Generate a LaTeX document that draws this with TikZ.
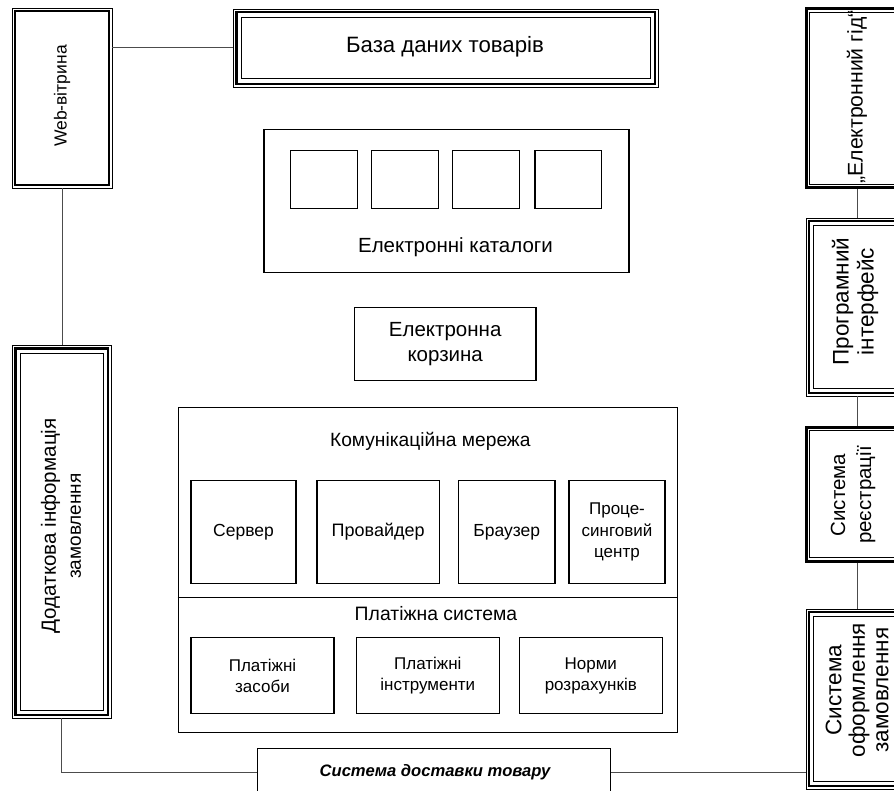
\documentclass[tikz,border=0pt]{standalone}
\usepackage{fontspec}
\setmainfont{Liberation Sans}
\usetikzlibrary{calc}
\begin{document}
\begin{tikzpicture}[x=1pt,y=-1pt,
  box/.style={draw=black, line width=1.4pt, inner sep=0pt},
  frame/.style={draw=black, line width=0.9pt, inner sep=0pt},
  thickframe/.style={draw=black, line width=3pt, inner sep=0pt},
  conn/.style={draw=black!70, line width=1pt},
  txt/.style={align=center, inner sep=0pt},
  thk/.style={line width=2.6pt},
  thn/.style={line width=0.9pt}]
\useasboundingbox (0,0) rectangle (894,791);
\clip (0,0) rectangle (894,791);
\fill[white] (0,0) rectangle (894,791);

% ---- left column
\node[frame, minimum width=100pt, minimum height=180pt] (web) at (62,98) {};
\draw[thk] ($(web.north west)+(3.5,3.5)$) rectangle ($(web.south east)+(-3.5,-3.5)$);
\node[txt, rotate=90, font=\fontsize{17.5}{22}\selectfont] (webt) at (62,96) {Web-вітрина};

\node[frame, minimum width=98.5pt, minimum height=372.5pt] (extra) at (61.75,531.75) {};
\draw[thk] ($(extra.north west)+(3.5,3.5)$) rectangle ($(extra.south east)+(-3.5,-3.5)$);
\draw[thn] ($(extra.north west)+(8,8)$) rectangle ($(extra.south east)+(-8,-8)$);
\node[txt, rotate=90, font=\fontsize{20.6}{25}\selectfont] (extrat) at (61,526) {Додаткова інформація\\\fontsize{19}{25}\selectfont замовлення};

% ---- top
\node[frame, minimum width=424.5pt, minimum height=78pt] (db) at (445.75,48) {};
\draw[thk] ($(db.north west)+(3.5,3.5)$) rectangle ($(db.south east)+(-3.5,-3.5)$);
\draw[thn] ($(db.north west)+(8.5,8.5)$) rectangle ($(db.south east)+(-8.5,-8.5)$);
\node[txt, font=\fontsize{22.2}{26}\selectfont] (dbt) at (445,47) {База даних товарів};

% ---- right column
\node[thickframe, minimum width=102pt, minimum height=179pt] (guide) at (857,98.5) {};
\draw[thn] ($(guide.north west)+(5,5)$) rectangle ($(guide.south east)+(-5,-5)$);
\node[txt, rotate=90, font=\fontsize{21.2}{25}\selectfont] (guidet) at (857,97) {„Електронний гід“};

\node[frame, minimum width=102pt, minimum height=178pt] (prog) at (857,307) {};
\draw[thk] ($(prog.north west)+(3.5,3.5)$) rectangle ($(prog.south east)+(-3.5,-3.5)$);
\draw[thn] ($(prog.north west)+(8,8)$) rectangle ($(prog.south east)+(-8,-8)$);
\node[txt, rotate=90, font=\fontsize{22.5}{25}\selectfont] (progt) at (855,301.5) {Програмний\\інтерфейс};

\node[thickframe, minimum width=102pt, minimum height=134pt] (reg) at (857,494) {};
\draw[thn] ($(reg.north west)+(5,5)$) rectangle ($(reg.south east)+(-5,-5)$);
\node[txt, rotate=90, font=\fontsize{20.5}{26}\selectfont] (regt) at (853,495) {Система\\реєстрації};

\node[frame, minimum width=102pt, minimum height=180pt] (order) at (857,699) {};
\draw[thk] ($(order.north west)+(3.5,3.5)$) rectangle ($(order.south east)+(-3.5,-3.5)$);
\draw[thn] ($(order.north west)+(8,8)$) rectangle ($(order.south east)+(-8,-8)$);
\node[txt, rotate=90, font=\fontsize{22.5}{23.5}\selectfont] (ordert) at (857,690) {Система\\оформлення\\замовлення};

% ---- catalogues
\node[box, minimum width=365pt, minimum height=143.5pt] (cat) at (446.5,201) {};
\node[box, minimum width=67pt, minimum height=57.6pt] (c1) at (324.2,179.5) {};
\node[box, minimum width=66.6pt, minimum height=57.6pt] (c2) at (405,179.5) {};
\node[box, minimum width=66.6pt, minimum height=57.6pt] (c3) at (486,179.5) {};
\node[box, minimum width=66.7pt, minimum height=57.6pt] (c4) at (568.3,179.5) {};
\node[txt, font=\fontsize{20.5}{25}\selectfont] (catt) at (455.5,247) {Електронні каталоги};

\node[box, minimum width=181.7pt, minimum height=73.4pt, txt, font=\fontsize{20.5}{25}\selectfont] (cart) at (445.2,344) {Електронна\\корзина};

% ---- network / payment
\node[box, minimum width=499pt, minimum height=325.4pt] (big) at (427.8,570) {};
\draw[line width=1.4pt] (big.west |- 0,597.7) -- (big.east |- 0,597.7);
\node[txt, font=\fontsize{19.2}{24}\selectfont] (nett) at (430.3,441) {Комунікаційна мережа};
\node[box, txt, font=\fontsize{17.5}{22}\selectfont, minimum width=105pt, minimum height=102.6pt] (srv) at (243.5,532) {Сервер};
\node[box, txt, font=\fontsize{18}{22}\selectfont, minimum width=122.3pt, minimum height=102.6pt] (prov) at (378.2,532) {Провайдер};
\node[box, txt, font=\fontsize{17.5}{22}\selectfont, minimum width=96.3pt, minimum height=102.6pt] (brow) at (506.8,532) {Браузер};
\node[box, txt, font=\fontsize{17}{21.7}\selectfont, minimum width=96pt, minimum height=102.6pt] (proc) at (617,532) {Проце-\\синговий\\центр};
\node[txt, font=\fontsize{19.4}{24}\selectfont] (payt) at (436,613.3) {Платіжна система};
\node[box, txt, font=\fontsize{17}{21}\selectfont, minimum width=143pt, minimum height=75.6pt] (ps1) at (262.5,675.5) {Платіжні\\засоби};
\node[box, txt, font=\fontsize{17}{21}\selectfont, minimum width=143pt, minimum height=75.6pt] (ps2) at (427.8,675.5) {Платіжні\\інструменти};
\node[box, txt, font=\fontsize{17}{21}\selectfont, minimum width=143pt, minimum height=75.6pt] (ps3) at (590.8,675.5) {Норми\\розрахунків};

% ---- delivery
\node[box, minimum width=353.4pt, minimum height=48.7pt] (deliv) at (434,772.65) {};
\node[txt, font=\fontsize{16.6}{22}\selectfont\bfseries\itshape] (delivt) at (435,772) {Система доставки товару};

% ---- connectors
\draw[conn] (db.west) -- (db.west -| web.east);
\draw[conn] ($(db.east)+(0,-5)$) -- ($(db.east)+(0,-5)$ -| guide.west);
\draw[conn] (guide.south) -- (prog.north);
\draw[conn] (prog.south) -- (reg.north);
\draw[conn] (reg.south) -- (order.north);
\draw[conn] (web.south) -- (web.south |- extra.north);
\draw[conn] (extra.south) |- (deliv.west);
\draw[conn] (deliv.east) -- (deliv.east -| order.west);
\end{tikzpicture}
\end{document}
